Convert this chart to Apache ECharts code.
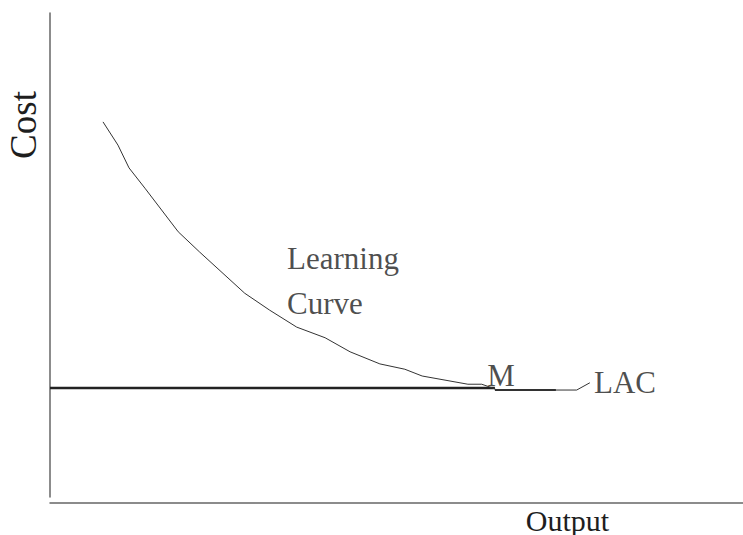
<!DOCTYPE html>
<html>
<head>
<meta charset="utf-8">
<script src="https://cdn.jsdelivr.net/npm/echarts@6/dist/echarts.min.js"></script>
<style>html,body{margin:0;padding:0;background:#fff}#c{width:743px;height:535px}</style>
</head>
<body>
<div id="c"></div>
<script>
// Learning curve (output, cost), both axes on a 0-100 scale
const curveX = [7.65, 9.81, 11.4, 13.7, 18.5, 21.6, 28.1, 31.7, 35.6, 39.7, 43.3, 47.6, 51.2, 53.7, 60.3, 62.3, 63.9, 64.5, 76.0, 77.9];
const curveY = [77.5, 72.7, 68.0, 63.8, 54.8, 50.6, 42.1, 38.6, 35.1, 32.9, 30.0, 27.5, 26.4, 25.0, 23.3, 23.3, 22.5, 22.1, 22.1, 23.6];
// Long-run average cost line (flat)
const lacX = [0, 64.2];
const lacY = [22.5, 22.5];
// Minimum segment under "M"
const mX = [64.2, 73.0];
const mY = [22.1, 22.1];
// Annotation labels
const labelText = ['Learning', 'Curve', 'M', 'LAC'];
const labelX = [34.2, 34.2, 63.1, 78.5];
const labelY = [49.2, 40.0, 25.1, 23.6];

const FONT = '"Liberation Serif", "Times New Roman", serif';
const zip = (a, b) => a.map((v, i) => [v, b[i]]);

const chart = echarts.init(document.getElementById('c'), null, {renderer: 'svg'});
chart.setOption({
  animation: false,
  backgroundColor: '#fff',
  grid: {left: 50, right: 0, top: 13, bottom: 38, containLabel: false, outerBoundsMode: 'none'},
  xAxis: {
    type: 'value', min: 0, max: 100, offset: 6,
    axisLine: {show: true, onZero: false, lineStyle: {color: '#666', width: 1.5}},
    axisTick: {show: false}, axisLabel: {show: false}, splitLine: {show: false},
    name: 'Output', nameLocation: 'middle', nameGap: 5,
    nameTextStyle: {fontFamily: FONT, fontSize: 30, lineHeight: 24, color: '#1e1e1e', padding: [0, 0, 0, 342]}
  },
  yAxis: {
    type: 'value', min: 0, max: 100,
    axisLine: {show: true, onZero: false, lineStyle: {color: '#666', width: 1.5}},
    axisTick: {show: false}, axisLabel: {show: false}, splitLine: {show: false},
    name: 'Cost', nameLocation: 'middle', nameGap: 8, nameRotate: 90,
    nameTextStyle: {fontFamily: FONT, fontSize: 37, color: '#1e1e1e', padding: [0, 0, 0, 260]}
  },
  series: [
    {
      type: 'line', data: zip(curveX, curveY), symbol: 'none', smooth: false,
      lineStyle: {color: '#333', width: 1}, z: 3
    },
    {
      type: 'line', data: zip(lacX, lacY), symbol: 'none',
      lineStyle: {color: '#222', width: 2.5}, z: 2
    },
    {
      type: 'line', data: zip(mX, mY), symbol: 'none',
      lineStyle: {color: '#333', width: 2}, z: 2
    },
    {
      type: 'scatter', data: zip(labelX, labelY), symbolSize: 0, silent: true,
      label: {
        show: true, position: 'right', distance: 0,
        formatter: p => labelText[p.dataIndex],
        fontFamily: FONT, fontSize: 31, color: '#1e1e1e', align: 'left', verticalAlign: 'middle'
      }
    }
  ]
});
</script>
</body>
</html>
